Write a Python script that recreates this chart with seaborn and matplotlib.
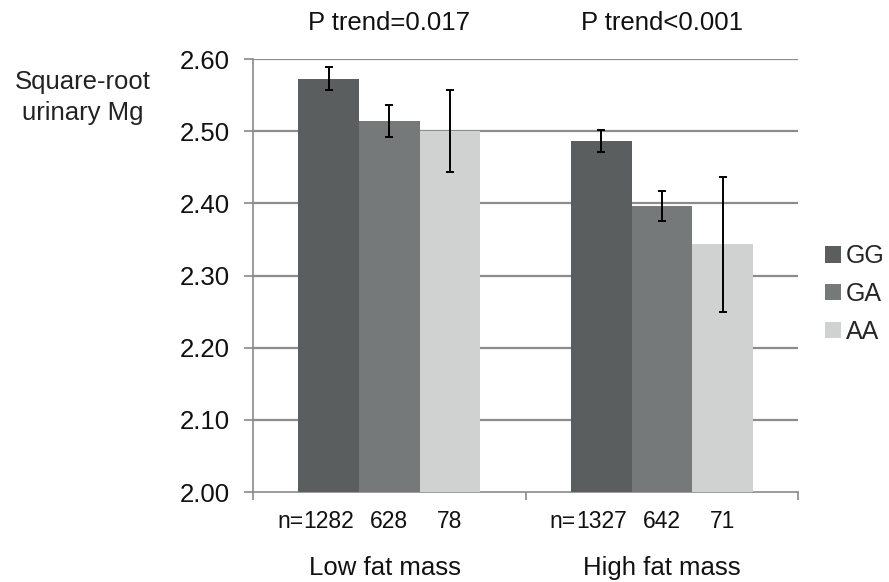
import matplotlib
matplotlib.use("Agg")
import matplotlib.pyplot as plt
import seaborn as sns
import pandas as pd
from matplotlib.patches import Patch

# Data
groups = ["Low fat mass", "High fat mass"]
genotypes = ["GG", "GA", "AA"]
low_means = [2.573, 2.514, 2.500]
high_means = [2.486, 2.396, 2.343]
low_err = [0.016, 0.022, 0.057]
high_err = [0.015, 0.021, 0.094]
low_n = ["1282", "628", "78"]
high_n = ["1327", "642", "71"]
p_trend = ["P trend=0.017", "P trend<0.001"]
colors = ["#5a5e5e", "#767979", "#d0d2d1"]

df = pd.DataFrame({
    "group": [groups[0]] * 3 + [groups[1]] * 3,
    "genotype": genotypes * 2,
    "mean": low_means + high_means,
    "err": low_err + high_err,
    "n": low_n + high_n,
})

sns.set_style("white")
plt.rcParams["font.family"] = ["Liberation Sans", "DejaVu Sans"]

FS = 18.5
TXT = "#111111"

fig = plt.figure(figsize=(8.89, 5.82), dpi=100)
ax = fig.add_axes([0.2846, 0.1546, 0.6135, 0.744])

sns.barplot(data=df, x="group", y="mean", hue="genotype", order=groups,
            hue_order=genotypes, palette=colors, width=0.667, gap=0,
            errorbar=None, linewidth=0, ax=ax, legend=False, zorder=3)

bar_containers = list(ax.containers)

# Error bars and counts under each bar
for gi, cont in enumerate(bar_containers):
    sub = df[df["genotype"] == genotypes[gi]].set_index("group").loc[groups]
    for bar, m, e, n in zip(cont, sub["mean"], sub["err"], sub["n"]):
        cx = bar.get_x() + bar.get_width() / 2
        ax.errorbar(cx, m, yerr=e, fmt="none", ecolor="black",
                    elinewidth=1.4, capsize=3, capthick=1.4, zorder=4)
        t = ax.annotate(n, xy=(cx, 0), xycoords=ax.get_xaxis_transform(),
                        xytext=(0, -21), textcoords="offset points",
                        ha="center", va="center", fontsize=16.5, color=TXT)
        if gi == 0:
            ax.annotate("n=", xy=(0, 0.5), xycoords=t, ha="right",
                        va="center", fontsize=16.5, color=TXT)

ax.set_ylim(2.0, 2.6)
ax.set_xlim(-0.5, 1.5)
ax.set_yticks([2.0, 2.1, 2.2, 2.3, 2.4, 2.5, 2.6])
ax.set_yticklabels([f"{v:.2f}" for v in ax.get_yticks()], fontsize=FS,
                   color=TXT)
ax.set_xticks([-0.5, 0.5, 1.5])
ax.set_xticklabels([])
ax.tick_params(axis="y", direction="out", length=6.5, width=1.2,
               color="#8a8a8a", left=True, pad=10)
ax.tick_params(axis="x", direction="out", length=6, width=1.2,
               color="#8a8a8a", bottom=True)
ax.set_xlabel("")
ax.set_ylabel("")

# Horizontal gridlines
for v in [2.1, 2.2, 2.3, 2.4, 2.5, 2.6]:
    ax.axhline(v, color="#8c8c8c", lw=1.6, zorder=1)

for side in ["top", "right"]:
    ax.spines[side].set_visible(False)
for side in ["left", "bottom"]:
    ax.spines[side].set_color("#8a8a8a")
    ax.spines[side].set_linewidth(1.2)

# Group labels and trend annotations
for i, (g, p) in enumerate(zip(groups, p_trend)):
    ax.annotate(g, xy=(i, 0), xycoords=ax.get_xaxis_transform(),
                xytext=(-3 if i == 0 else 0, -54.5), textcoords="offset points",
                ha="center", va="center", fontsize=FS, color=TXT)
    ax.annotate(p, xy=(i, 1), xycoords=ax.get_xaxis_transform(),
                xytext=(0, 26), textcoords="offset points",
                ha="center", va="center", fontsize=FS, color=TXT)

fig.text(0.093, 0.8325, "Square-root\nurinary Mg", ha="center", va="center",
         fontsize=FS, color="#222222", linespacing=1.35)

handles = [Patch(facecolor=c, edgecolor="none") for c in colors]
fig.legend(handles, genotypes, loc="center left",
           bbox_to_anchor=(0.928, 0.495), frameon=False, fontsize=18,
           handlelength=0.65, handleheight=0.65, handletextpad=0.2,
           labelspacing=0.55, borderaxespad=0, borderpad=0)

fig.savefig("out.png", dpi=100)
